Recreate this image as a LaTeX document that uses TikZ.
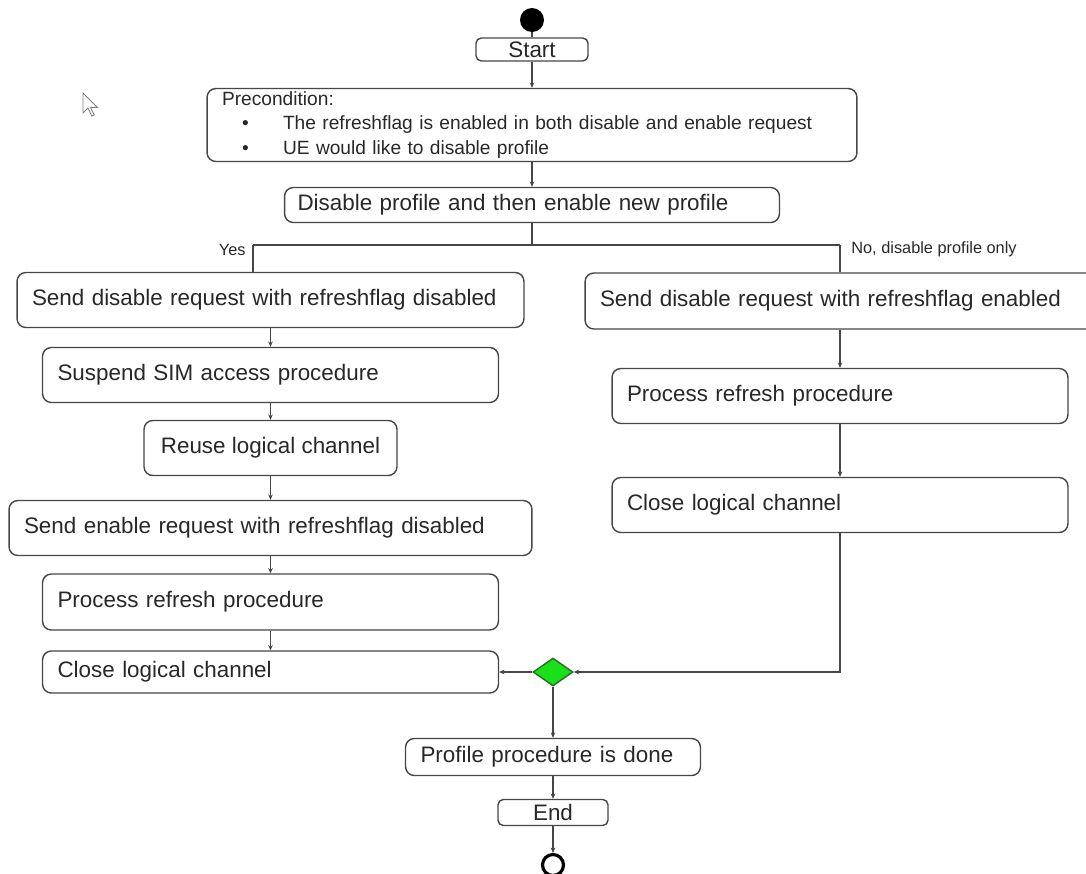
\documentclass[tikz,border=0pt]{standalone}
\usepackage{fontspec}
\setmainfont{Liberation Sans}
\usetikzlibrary{shapes.geometric,arrows.meta}
\definecolor{linegray}{RGB}{70,70,70}
\definecolor{textgray}{RGB}{40,40,40}
\definecolor{decgreen}{RGB}{25,225,25}
\definecolor{decedge}{RGB}{40,110,40}
\newcommand\boxfont{\fontsize{12.75}{15}\selectfont}
\newcommand\precfont{\fontsize{10.9}{13.9}\selectfont}
\newcommand\labfont{\fontsize{9.3}{11}\selectfont}

\begin{document}
\begin{tikzpicture}[x=0.02cm,y=-0.02cm,
    act/.style={draw=linegray, line width=0.8pt, rounded corners=5pt, fill=white,
        text=textgray, font=\boxfont, align=left, inner xsep=0.3cm, inner ysep=0pt,
        minimum height=1.1cm},
    flow/.style={draw=linegray, line width=0.6pt, -{Stealth[length=3pt,width=2.6pt]}},
    lnk/.style={draw=linegray, line width=0.6pt},
    lab/.style={text=textgray, font=\labfont, inner sep=0pt}]
    \useasboundingbox (0,0) rectangle (1086,873);
    \clip (0,0) rectangle (1086,873);
    % start
    \node[circle, fill=black, minimum size=0.48cm, inner sep=0] (init) at (532,20) {};
    \node[act, rounded corners=3pt, text width=1.64cm, align=center, minimum height=0.46cm] (start) at (532,49.5) {Start};
    % precondition
    \node[act, text width=12.4cm, minimum height=1.46cm, font=\precfont] (pre) at (532,125) {Precondition:\\
        \hspace*{0.4cm}\makebox[0.82cm][l]{\textbullet}The refreshflag is enabled in both disable and enable request\\
        \hspace*{0.4cm}\makebox[0.82cm][l]{\textbullet}UE would like to disable profile};
    \node[act, text width=9.38cm, inner xsep=0.26cm, minimum height=0.7cm] (dis) at (532,205) {Disable profile and then enable new profile};
    % left branch
    \node[act, text width=9.54cm] (sendoff) at (270.5,300) {Send disable request with refreshflag disabled};
    \node[act, text width=8.52cm] (suspend) at (270.5,375) {Suspend SIM access procedure};
    \node[act, minimum width=5.06cm, align=center] (reuse) at (270.5,448) {Reuse logical channel};
    \node[act, text width=9.86cm] (sendon) at (270.5,528) {Send enable request with refreshflag disabled};
    \node[act, text width=8.52cm, minimum height=1.12cm] (refreshl) at (270.5,602) {Process refresh procedure};
    \node[act, text width=8.52cm, minimum height=0.84cm] (closel) at (270.5,672) {Close logical channel};
    % right branch
    \node[act, text width=9.6cm, minimum height=1.12cm] (sendflag) at (840,301) {Send disable request with refreshflag enabled};
    \node[act, text width=8.52cm] (refreshr) at (840,396) {Process refresh procedure};
    \node[act, text width=8.52cm] (closer) at (840,505) {Close logical channel};
    % merge and end
    \node[diamond, draw=decedge, fill=decgreen, line width=0.8pt, minimum width=0.8cm, minimum height=0.56cm, inner sep=0] (dia) at (553,672) {};
    \node[act, text width=5.3cm, minimum height=0.74cm] (done) at (553,757) {Profile procedure is done};
    \node[act, rounded corners=3pt, text width=1.6cm, align=center, minimum height=0.52cm] (end) at (553,812.5) {End};
    \node[circle, draw=black, line width=1.8pt, minimum size=0.42cm, inner sep=0] (final) at (553,865) {};
    % labels
    \node[lab, anchor=east] (yes) at (246,250) {Yes};
    \node[lab, anchor=west] (no) at (851,249) {No, disable profile only};
    % split points
    \coordinate (split) at (532,245);
    \coordinate (yesc) at (253,245);
    \coordinate (noc) at (840,245);
    % connectors
    \draw[lnk] (init) -- (start);
    \draw[flow] (start) -- (pre);
    \draw[flow] (pre) -- (dis);
    \draw[lnk] (dis) -- (split);
    \draw[lnk] (yesc) -- (noc);
    \draw[lnk] (yesc) -- (yesc |- sendoff.north);
    \draw[lnk] (noc) -- (noc |- sendflag.north);
    \draw[flow] (sendoff) -- (suspend);
    \draw[flow] (suspend) -- (reuse);
    \draw[flow] (reuse) -- (sendon);
    \draw[flow] (sendon) -- (refreshl);
    \draw[flow] (refreshl) -- (closel);
    \draw[flow] (sendflag) -- (refreshr);
    \draw[flow] (refreshr) -- (closer);
    \draw[flow] (closer.south) -- (closer.south |- dia) -- (dia.east);
    \draw[flow] (dia.west) -- (closel.east);
    \draw[flow] (dia) -- (done);
    \draw[flow] (done) -- (end);
    \draw[flow] (end) -- (final);
    % pointer
    \draw[gray, fill=white, line width=0.5pt] (83,93) -- ++(0,20) -- ++(5,-5) -- ++(3.75,8.1) -- ++(2.5,-1.2) -- ++(-3.75,-7.5) -- ++(6.9,0) -- cycle;
\end{tikzpicture}
\end{document}
